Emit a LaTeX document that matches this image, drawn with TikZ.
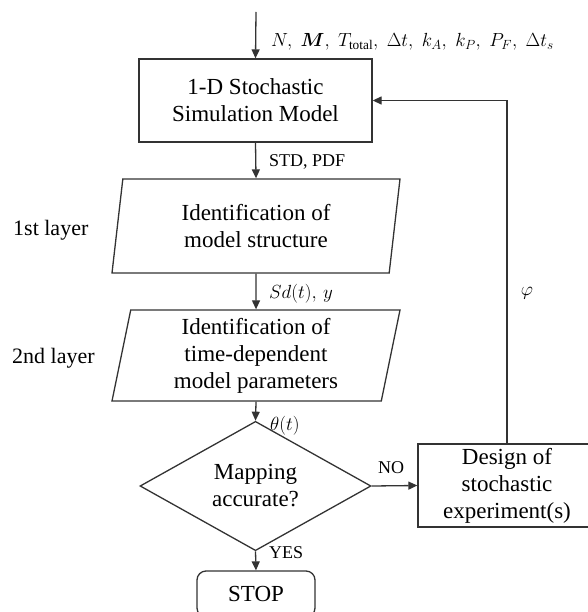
\RequirePackage{fix-cm}
\documentclass[tikz,border=0pt]{standalone}
\usepackage{amsmath}
\usepackage{fontspec}
\setmainfont{Liberation Serif}
\usetikzlibrary{arrows.meta,shapes.geometric}
\begin{document}
\begin{tikzpicture}[x=1pt,y=-1pt,
  line/.style={draw=black!80,line width=1.3pt},
  arr/.style={line,-{Triangle[length=9pt,width=8pt]}},
  mainfont/.style={font=\fontsize{23}{27}\selectfont},
  box/.style={line,rectangle,align=center,mainfont,inner sep=0pt},
  para/.style={line,trapezium,trapezium left angle=76,trapezium right angle=104,
    trapezium stretches body,align=center,mainfont,inner sep=0pt},
  dec/.style={line,diamond,align=center,mainfont,inner sep=0pt},
  lbl/.style={font=\fontsize{18}{21}\selectfont,anchor=base west,inner sep=0pt},
  mlbl/.style={font=\fontsize{19}{22}\selectfont,anchor=base west,inner sep=0pt},
  side/.style={font=\fontsize{22}{26}\selectfont,anchor=base west,inner sep=0pt}]
\useasboundingbox (0,0) rectangle (587,612);

\coordinate (in) at (256,12);
\node[box,minimum width=233pt,minimum height=83pt] (sim) at (255.5,100.5) {1-D Stochastic\\Simulation Model};
\node[para,minimum width=288pt,minimum height=94pt] (p1) at (256,226) {Identification of\\model structure};
\node[para,minimum width=288pt,minimum height=91pt] (p2) at (256,355.5) {Identification of\\time-dependent\\model parameters};
\node[dec,minimum width=231pt,minimum height=92pt] (map) at (255.5,486) {Mapping\\accurate?};
\node[box,minimum width=178pt,minimum height=83pt] (design) at (507,485.5) {Design of\\stochastic\\experiment(s)};
\node[box,rounded corners=9pt,minimum width=118pt,minimum height=46pt] (stop) at (256,594) {STOP};

\draw[arr] (in) -- (sim.north);
\draw[arr] (sim.south) -- (p1.north);
\draw[arr] (p1.south) -- (p2.north);
\draw[arr] (p2.south) -- (map.north);
\draw[arr] (map.south) -- (stop.north);
\draw[arr] (map.east) -- (design.west);
\draw[arr] (design.north) |- (sim.east);

\node[mlbl] (lin) at (271,47) {$N,\; \boldsymbol{M},\; T_{\mathrm{total}},\; \Delta t,\; k_A,\; k_P,\; P_F,\; \Delta t_s$};
\node[lbl] (lstd) at (269,167) {STD, PDF};
\node[mlbl] (lsd) at (269,298) {$Sd(t),\, y$};
\node[mlbl] (lth) at (270,430) {$\theta(t)$};
\node[lbl] (lyes) at (269,558) {YES};
\node[lbl] (lno) at (378,473) {NO};
\node[font=\fontsize{19}{22}\selectfont] (lphi) at (527,293) {$\varphi$};
\node[side] (l1) at (13,235) {1st layer};
\node[side] (l2) at (12,363) {2nd layer};
\end{tikzpicture}
\end{document}
